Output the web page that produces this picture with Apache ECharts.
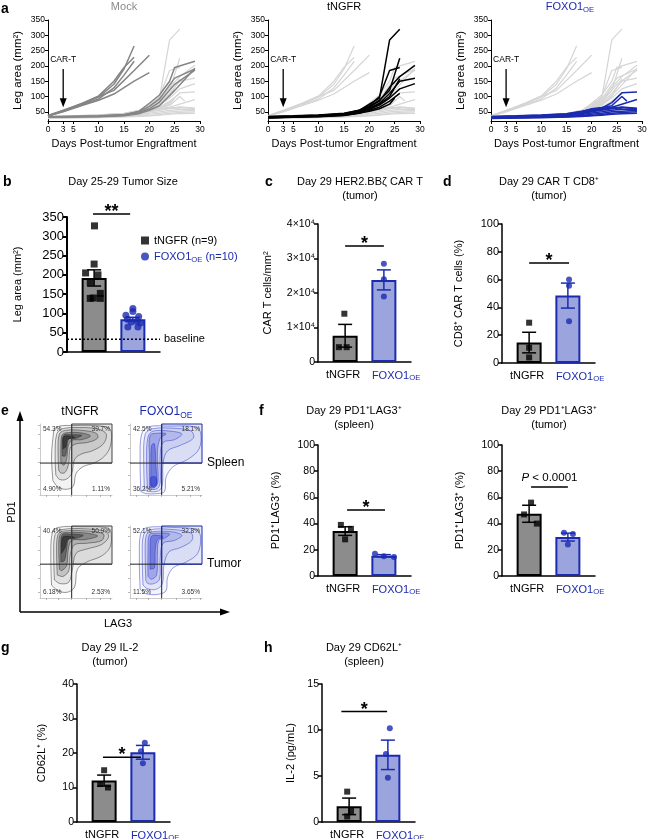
<!DOCTYPE html>
<html><head><meta charset="utf-8">
<script src="https://cdn.jsdelivr.net/npm/echarts@6/dist/echarts.min.js"></script>
<style>html,body{margin:0;padding:0;background:#fff}#c{width:648px;height:839px}</style>
</head><body><div id="c"></div>
<script>
// ================= DATA =================
// Panel a: leg area (mm^2) per mouse, [day, value]
const daysTicks = [0, 3, 5, 10, 15, 20, 25, 30];
const legTicks = [50, 100, 150, 200, 250, 300, 350];
const carTDay = 3;
const mockLines = [
  [[0,38],[3,55],[7,78],[10,98],[13,140],[15,190],[17,265]],
  [[0,37],[3,54],[7,80],[10,102],[13,150],[15,195],[17,228]],
  [[0,36],[3,52],[7,75],[10,92],[13,128],[15,170],[17,215]],
  [[0,37],[3,53],[7,78],[10,100],[13,120],[17,185],[20,235]],
  [[0,36],[3,50],[7,72],[10,88],[13,108],[17,150],[20,178]],
  [[0,33],[10,36],[15,40],[18,52],[20,78],[22,105],[24,150],[25,195],[29,215]],
  [[0,34],[10,37],[15,41],[18,50],[20,68],[22,92],[25,160],[29,190]],
  [[0,33],[10,35],[15,39],[18,47],[20,60],[22,82],[25,140],[29,186]],
  [[0,32],[10,34],[15,37],[18,44],[20,55],[22,70],[25,120],[29,192]]
];
const tngfrLines = [
  [[0,35],[5,37],[10,40],[15,45],[18,55],[20,75],[22,95],[24,285],[26,320]],
  [[0,33],[5,35],[10,38],[15,43],[18,52],[20,68],[22,88],[24,120],[26,225]],
  [[0,34],[5,36],[10,39],[15,44],[18,55],[20,70],[22,100],[24,185],[26,195]],
  [[0,32],[5,34],[10,37],[15,42],[18,50],[20,65],[22,85],[24,130],[26,165],[29,202]],
  [[0,33],[5,35],[10,38],[15,42],[18,48],[20,62],[22,78],[24,110],[26,150],[29,160]],
  [[0,31],[5,33],[10,36],[15,40],[18,47],[20,58],[22,72],[24,95],[26,125],[29,142]],
  [[0,32],[5,34],[10,36],[15,41],[18,50],[20,60],[22,75],[24,100],[26,158]],
  [[0,30],[5,32],[10,34],[15,38],[18,45],[20,55],[22,65],[24,85],[26,110]],
  [[0,31],[5,33],[10,35],[15,39],[18,46],[20,52],[22,60],[24,75],[25,95]]
];
const foxoLines = [
  [[0,35],[5,37],[10,40],[15,44],[18,52],[20,58],[22,62],[24,80],[26,112],[29,115]],
  [[0,34],[5,36],[10,39],[15,43],[18,50],[20,60],[22,64],[24,70],[26,100],[27,85]],
  [[0,33],[5,35],[10,37],[15,41],[18,47],[20,55],[22,60],[24,65],[26,75],[29,90]],
  [[0,32],[5,34],[10,36],[15,40],[18,45],[20,52],[22,58],[24,62],[26,66],[29,62]],
  [[0,31],[5,33],[10,35],[15,39],[18,44],[20,50],[22,55],[24,60],[26,64],[29,60]],
  [[0,30],[5,32],[10,34],[15,37],[18,41],[20,46],[22,50],[24,55],[26,58],[29,58]],
  [[0,29],[5,31],[10,33],[15,35],[18,38],[20,42],[22,45],[24,50],[26,52],[29,55]],
  [[0,30],[5,31],[10,32],[15,34],[18,36],[20,38],[22,41],[24,45],[26,48],[29,50]],
  [[0,28],[5,30],[10,31],[15,33],[18,35],[20,37],[22,39],[24,42],[26,44],[29,45]],
  [[0,32],[5,34],[10,36],[15,40],[18,46],[20,56],[22,62],[24,64],[26,62]]
];

// Group labels ("_" marks subscript)
const groupLabels = ['tNGFR', 'FOXO1_OE'];

// Panel b: Day 25-29 tumor size (mm^2); points are [group position, value]
const bMeans = [192, 85];
const bSems = [21, 5];
const bPtsT = [[1.01,327],[1.0,228],[0.78,205],[1.1,200],[0.9,181],[1.16,152],[0.9,139],[1.16,139],[0.98,140]];
const bPtsF = [[2.0,113],[2.0,105],[1.82,95],[2.15,92],[1.86,85],[2.1,80],[1.96,78],[2.2,75],[1.87,65],[2.13,65]];
const bBaseline = 33;
const bSig = [0.97, 1.93, 358, '**'];

// Panel c: CAR T cells/mm^2
const cMeans = [7600, 23800];
const cSems = [3300, 2900];
const cPtsT = [[0.98,14000],[0.84,4300],[1.04,4300]];
const cPtsF = [[2.0,28500],[2.0,24000],[2.0,19000]];
const cSig = [1.0, 2.0, 33600, '*'];

// Panel d: CD8+ CAR T cells (%)
const dMeans = [14.7, 48.5];
const dSems = [7.4, 9.0];
const dPtsT = [[1.0,29],[1.0,11],[1.0,4]];
const dPtsF = [[2.03,60],[2.03,55.6],[2.03,30]];
const dSig = [1.0, 2.03, 72, '*'];

// Panel e: flow cytometry (PD1 vs LAG3), quadrant percentages [UL, UR, LL, LR]
const pctTSpleen = ['54.3%', '39.7%', '4.90%', '1.11%'];
const pctFSpleen = ['42.5%', '18.1%', '36.2%', '5.21%'];
const pctTTumor  = ['40.4%', '50.9%', '6.18%', '2.53%'];
const pctFTumor  = ['52.1%', '32.8%', '11.5%', '3.65%'];
const gatesX = [44, 44, 44, 44];
const gatesY = [45, 45, 47, 47];
// density contour outlines, [LAG3 %, PD1 %] of plot range
const flowTSpleen = [
  [[18,20],[16,50],[18,80],[22,95],[50,98],[85,97],[98,92],[98,70],[90,55],[75,45],[60,40],[50,30],[46,12],[35,8],[24,12],[18,20]],
  [[22,28],[21,55],[23,85],[30,93],[55,95],[80,93],[92,86],[88,72],[72,62],[58,58],[48,50],[44,30],[36,22],[27,22],[22,28]],
  [[26,35],[25,62],[27,86],[35,91],[58,91],[78,87],[80,80],[66,74],[50,72],[42,66],[40,45],[35,32],[29,31],[26,35]],
  [[29,45],[29,70],[31,85],[40,88],[60,87],[70,83],[58,78],[44,77],[39,68],[37,50],[33,42],[29,45]],
  [[31,55],[31,78],[34,85],[45,85],[58,84],[50,80],[40,79],[37,65],[35,55],[31,55]],
  [[32,65],[33,82],[42,83],[48,81],[38,78],[36,68],[32,65]]
];
const flowFSpleen = [
  [[15,5],[14,50],[16,85],[25,96],[55,97],[90,96],[98,88],[96,65],[80,50],[60,40],[50,25],[48,5],[38,2],[22,2],[15,5]],
  [[20,8],[19,50],[21,85],[30,93],[60,94],[85,90],[88,80],[70,70],[52,62],[46,45],[45,15],[40,6],[25,5],[20,8]],
  [[24,10],[23,50],[25,82],[32,90],[55,90],[72,86],[62,78],[46,74],[42,55],[42,18],[38,9],[28,8],[24,10]],
  [[27,12],[27,55],[28,84],[38,87],[50,86],[42,80],[38,60],[39,20],[35,11],[30,10],[27,12]],
  [[29,13],[29,40],[30,70],[34,72],[36,40],[37,18],[34,13],[29,13]],
  [[29,12],[29,25],[36,25],[37,14],[33,11],[29,12]]
];
const flowTTumor = [
  [[16,18],[15,55],[17,90],[25,98],[60,99],[95,97],[99,88],[97,70],[85,58],[65,50],[52,40],[48,15],[38,8],[25,10],[16,18]],
  [[20,25],[19,60],[21,88],[30,95],[65,96],[92,92],[95,84],[85,74],[65,68],[50,62],[45,40],[40,22],[28,20],[20,25]],
  [[24,32],[23,65],[25,88],[33,93],[65,93],[88,89],[86,80],[65,76],[48,74],[42,60],[40,38],[32,30],[24,32]],
  [[27,40],[26,70],[28,88],[36,91],[65,90],[80,86],[62,81],[44,80],[39,65],[37,45],[30,38],[27,40]],
  [[29,50],[29,78],[31,88],[40,89],[60,87],[50,83],[40,82],[37,68],[34,52],[29,50]],
  [[30,62],[31,84],[38,86],[48,84],[38,81],[35,70],[30,62]]
];
const flowFTumor = [
  [[14,12],[13,55],[15,90],[24,98],[60,98],[92,95],[98,85],[94,62],[78,50],[60,42],[52,28],[50,10],[38,5],[22,6],[14,12]],
  [[18,18],[17,58],[19,88],[28,95],[60,95],[85,90],[86,80],[70,70],[54,64],[47,45],[45,20],[36,12],[24,13],[18,18]],
  [[22,24],[21,62],[23,88],[31,92],[58,92],[72,87],[62,80],[46,76],[42,55],[41,26],[33,20],[25,20],[22,24]],
  [[25,30],[25,68],[27,88],[35,90],[55,89],[48,83],[40,80],[38,58],[37,32],[30,26],[25,30]],
  [[28,40],[28,75],[30,86],[38,87],[46,85],[38,81],[35,65],[34,42],[28,40]]
];

// Panel f: PD1+LAG3+ (%)
const fsMeans = [34.3, 15.5];
const fsSems = [3.3, 0.8];
const fsPtsT = [[0.89,39],[1.15,36],[1.0,28]];
const fsPtsF = [[1.77,17],[2.0,15],[2.26,14.5]];
const fsSig = [1.05, 2.03, 50.4, '*'];
const ftMeans = [47.5, 29.7];
const ftSems = [6.5, 3.0];
const ftPtsT = [[1.05,56],[0.87,47],[1.2,40]];
const ftPtsF = [[1.9,33],[2.13,32],[2.0,24]];
const ftSig = [1.05, 2.0, 68, 'P < 0.0001'];

// Panel g: CD62L+ (%)
const gMeans = [12, 20.2];
const gSems = [1.6, 2.0];
const gPtsT = [[1.0,15],[0.9,11],[1.1,10]];
const gPtsF = [[2.05,23],[1.95,20.5],[2.0,17]];
const gSig = [0.97, 1.95, 18.8, '*'];

// Panel h: IL-2 (pg/mL)
const hMeans = [1.7, 7.3];
const hSems = [0.9, 1.6];
const hPtsT = [[0.95,3.3],[1.05,1.2],[0.95,0.6]];
const hPtsF = [[2.05,10.2],[1.95,7.4],[2.0,4.8]];
const hSig = [0.8, 1.98, 12, '*'];

// ================= STYLE / LAYOUT =================
const FF = 'Liberation Sans, Arial, Helvetica, sans-serif';
const BLUE = '#1b2bb0', BLUE_FILL = '#9ba4dd', GRAY_FILL = '#8c8c8c';
const MOCK_DARK = '#858585', LIGHT = '#d5d5d5';

const gridBoxes = [
  [48, 20, 152, 101], [268, 20, 152, 101], [491, 20, 151, 101],
  [67, 217, 93, 135], [318, 224, 93, 138], [502, 224, 93, 139],
  [40, 424, 72, 71], [130, 424, 72, 71], [40, 526, 72, 72], [130, 526, 72, 72],
  [318, 445, 93, 131], [502, 445, 93, 131],
  [77, 684, 93, 138], [322, 684, 93, 138]
];
const grid = gridBoxes.map(b => ({left: b[0], top: b[1], width: b[2], height: b[3], outerBoundsMode: 'none', containLabel: false}));

const xAxis = [], yAxis = [];
// panel a axes
for (let i = 0; i < 3; i++) {
  xAxis.push({gridIndex: i, type: 'value', min: 0, max: 30,
    axisLine: {show: true, onZero: false, lineStyle: {color: '#000', width: 1}},
    axisTick: {show: true, customValues: daysTicks, length: 3, lineStyle: {color: '#000'}},
    axisLabel: {customValues: daysTicks, fontSize: 8.5, fontFamily: FF, color: '#000', margin: 4, hideOverlap: false},
    splitLine: {show: false},
    name: 'Days Post-tumor Engraftment', nameLocation: 'middle', nameGap: 17,
    nameTextStyle: {fontSize: 11, fontFamily: FF, color: '#000'}});
  yAxis.push({gridIndex: i, type: 'value', min: 20, max: 350,
    axisLine: {show: true, onZero: false, lineStyle: {color: '#000', width: 1}},
    axisTick: {show: true, customValues: legTicks, length: 3, lineStyle: {color: '#000'}},
    axisLabel: {customValues: legTicks, fontSize: 8.5, fontFamily: FF, color: '#000', margin: 3},
    splitLine: {show: false},
    name: 'Leg area (mm²)', nameLocation: 'middle', nameGap: 24, nameRotate: 90,
    nameTextStyle: {fontSize: 11.5, fontFamily: FF, color: '#000'}});
}
function barX(gi) {
  return {gridIndex: gi, type: 'value', min: 0.3, max: 2.7,
    axisLine: {show: true, onZero: false, lineStyle: {color: '#000', width: 1.5}},
    axisTick: {show: false}, splitLine: {show: false}, axisLabel: {show: false}};
}
function barY(gi, max, interval, name, gap, fmt, fs, lw) {
  return {gridIndex: gi, type: 'value', min: 0, max, interval,
    axisLine: {show: true, onZero: false, lineStyle: {color: '#000', width: lw || 1.5}},
    axisTick: {show: true, length: 4, lineStyle: {color: '#000', width: lw || 1.5}},
    axisLabel: {fontSize: fs || 10.5, fontFamily: FF, color: '#000', margin: 3, formatter: fmt},
    splitLine: {show: false},
    name, nameLocation: 'middle', nameGap: gap, nameRotate: 90,
    nameTextStyle: {fontSize: 11, fontFamily: FF, color: '#000'}};
}
// b
xAxis.push(barX(3));
yAxis.push(barY(3, 350, 50, 'Leg area (mm²)', 44, null, 13, 2));
// c
xAxis.push(barX(4));
yAxis.push(barY(4, 40000, 10000, 'CAR T cells/mm²', 45, v => v === 0 ? '0' : (v / 10000) + '×10⁴', 10.5));
// d
xAxis.push(barX(5));
yAxis.push(barY(5, 100, 20, 'CD8⁺ CAR T cells (%)', 38, null, 11));
// e flow axes
for (let i = 6; i < 10; i++) {
  xAxis.push({gridIndex: i, type: 'value', min: 0, max: 100,
    axisLine: {show: true, onZero: false, lineStyle: {color: '#aaa', width: 0.6}},
    axisTick: {show: true, customValues: [8, 26, 44, 64, 84, 98], length: 2, lineStyle: {color: '#888', width: 0.6}},
    axisLabel: {show: false}, splitLine: {show: false}});
  yAxis.push({gridIndex: i, type: 'value', min: 0, max: 100,
    axisLine: {show: true, onZero: false, lineStyle: {color: '#aaa', width: 0.6}},
    axisTick: {show: true, customValues: [8, 28, 46, 66, 86, 98], length: 2, lineStyle: {color: '#888', width: 0.6}},
    axisLabel: {show: false}, splitLine: {show: false}});
}
// f
xAxis.push(barX(10));
yAxis.push(barY(10, 100, 20, 'PD1⁺LAG3⁺ (%)', 37, null, 10.5));
xAxis.push(barX(11));
yAxis.push(barY(11, 100, 20, 'PD1⁺LAG3⁺ (%)', 37, null, 10.5));
// g, h
xAxis.push(barX(12));
yAxis.push(barY(12, 40, 10, 'CD62L⁺ (%)', 30, null, 10.5));
xAxis.push(barX(13));
yAxis.push(barY(13, 15, 5, 'IL-2 (pg/mL)', 26, null, 10.5));

// ================= SERIES =================
const series = [];
function lineS(gi, pts, color, w, z) {
  return {type: 'line', xAxisIndex: gi, yAxisIndex: gi, data: pts, symbol: 'none', showSymbol: false,
    lineStyle: {color, width: w}, silent: true, z, animation: false};
}
function carTSeries(gi) {
  return {type: 'custom', xAxisIndex: gi, yAxisIndex: gi, data: [[carTDay]], silent: true, z: 6, clip: false,
    renderItem: (p, api) => {
      const top = api.coord([api.value(0), 190]);
      const tip = api.coord([api.value(0), 65]);
      const lab = api.coord([api.value(0), 220]);
      return {type: 'group', children: [
        {type: 'line', shape: {x1: top[0], y1: top[1], x2: tip[0], y2: tip[1] - 7}, style: {stroke: '#000', lineWidth: 1.3}},
        {type: 'polygon', shape: {points: [[tip[0], tip[1]], [tip[0] - 3.5, tip[1] - 9], [tip[0] + 3.5, tip[1] - 9]]}, style: {fill: '#000'}},
        {type: 'text', style: {text: 'CAR-T', x: lab[0], y: lab[1], align: 'center', verticalAlign: 'middle', fontSize: 8.5, fontFamily: FF, fill: '#000'}}
      ]};
    }};
}
const aPanels = [
  {gi: 0, fg: mockLines, color: MOCK_DARK, bg: tngfrLines.concat(foxoLines)},
  {gi: 1, fg: tngfrLines, color: '#000', bg: mockLines.concat(foxoLines)},
  {gi: 2, fg: foxoLines, color: BLUE, bg: mockLines.concat(tngfrLines)}
];
aPanels.forEach(p => {
  p.bg.forEach(d => series.push(lineS(p.gi, d, LIGHT, 1.2, 1)));
  p.fg.forEach(d => series.push(lineS(p.gi, d, p.color, 1.5, 2)));
  series.push(carTSeries(p.gi));
});

function catLabelSeries(gi) {
  return {type: 'custom', xAxisIndex: gi, yAxisIndex: gi, data: [[1], [2]], silent: true, z: 5, clip: false,
    renderItem: (p, api) => {
      const c = api.coord([api.value(0), 0]);
      const parts = groupLabels[p.dataIndex].split('_');
      if (p.dataIndex === 0) {
        return {type: 'text', style: {text: parts[0], x: c[0] - 2, y: c[1] + 7, align: 'center', verticalAlign: 'top', fontSize: 11, fontFamily: FF, fill: '#000'}};
      }
      return {type: 'text', style: {text: '{m|' + parts[0] + '}{s|' + parts[1] + '}', x: c[0] - 12, y: c[1] + 7, align: 'left', verticalAlign: 'top',
        rich: {m: {fontSize: 11, fontFamily: FF, fill: BLUE, lineHeight: 13}, s: {fontSize: 7.7, fontFamily: FF, fill: BLUE, lineHeight: 8, verticalAlign: 'bottom'}}}};
    }};
}

function barPanel(gi, means, sems, ptsT, ptsF, sig, names, symSize, noCat) {
  series.push({type: 'bar', xAxisIndex: gi, yAxisIndex: gi, barWidth: 25, silent: true, z: 2, animation: false,
    data: [
      {value: [1, means[0]], itemStyle: {color: GRAY_FILL, borderColor: '#000', borderWidth: 2}},
      {value: [2, means[1]], itemStyle: {color: BLUE_FILL, borderColor: BLUE, borderWidth: 2}}
    ]});
  series.push({type: 'custom', xAxisIndex: gi, yAxisIndex: gi, silent: true, z: 3, clip: false,
    data: [[1, means[0], sems[0]], [2, means[1], sems[1]]],
    renderItem: (p, api) => {
      const x = api.value(0), m = api.value(1), s = api.value(2);
      const t = api.coord([x, m + s]), b = api.coord([x, Math.max(0, m - s)]);
      const col = p.dataIndex === 0 ? '#000' : BLUE;
      const st = {stroke: col, lineWidth: 1.5};
      return {type: 'group', children: [
        {type: 'line', shape: {x1: t[0], y1: t[1], x2: b[0], y2: b[1]}, style: st},
        {type: 'line', shape: {x1: t[0] - 7, y1: t[1], x2: t[0] + 7, y2: t[1]}, style: st},
        {type: 'line', shape: {x1: b[0] - 7, y1: b[1], x2: b[0] + 7, y2: b[1]}, style: st}
      ]};
    }});
  series.push({type: 'scatter', name: names ? names[0] : 'tNGFR', xAxisIndex: gi, yAxisIndex: gi, data: ptsT,
    symbol: 'rect', symbolSize: symSize || 6, itemStyle: {color: '#000'}, z: 4, silent: true, animation: false});
  series.push({type: 'scatter', name: names ? names[1] : 'FOXO1', xAxisIndex: gi, yAxisIndex: gi, data: ptsF,
    symbol: 'circle', symbolSize: symSize || 6, itemStyle: {color: BLUE}, z: 4, silent: true, animation: false});
  series.push({type: 'custom', xAxisIndex: gi, yAxisIndex: gi, data: [[sig[0], sig[1], sig[2]]], silent: true, z: 5, clip: false,
    renderItem: (p, api) => {
      const a = api.coord([api.value(0), api.value(2)]), b = api.coord([api.value(1), api.value(2)]);
      const isP = sig[3].charAt(0) === 'P';
      const txt = isP ? {type: 'text', style: {text: '{i|P}{n|' + sig[3].slice(1) + '}', x: (a[0] + b[0]) / 2, y: a[1] - 3, align: 'center', verticalAlign: 'bottom',
            rich: {i: {fontStyle: 'italic', fontSize: 11.5, fontFamily: FF, fill: '#000'}, n: {fontSize: 11.5, fontFamily: FF, fill: '#000'}}}}
        : {type: 'text', style: {text: sig[3], x: (a[0] + b[0]) / 2, y: a[1] + 7, align: 'center', verticalAlign: 'bottom', fontSize: 18, fontWeight: 'bold', fontFamily: FF, fill: '#000'}};
      return {type: 'group', children: [
        {type: 'line', shape: {x1: a[0], y1: a[1], x2: b[0], y2: b[1]}, style: {stroke: '#000', lineWidth: 1.5}},
        txt
      ]};
    }});
  if (!noCat) series.push(catLabelSeries(gi));
}
barPanel(3, bMeans, bSems, bPtsT, bPtsF, bSig, ['tNGFR (n=9)', 'FOXO1 (n=10)'], 7, true);
// baseline
series.push({type: 'custom', xAxisIndex: 3, yAxisIndex: 3, data: [[bBaseline]], silent: true, z: 5, clip: false,
  renderItem: (p, api) => {
    const a = api.coord([0.3, api.value(0)]), b = api.coord([2.7, api.value(0)]);
    return {type: 'group', children: [
      {type: 'line', shape: {x1: a[0], y1: a[1], x2: b[0], y2: b[1]}, style: {stroke: '#000', lineWidth: 1.5, lineDash: [2, 2]}},
      {type: 'text', style: {text: 'baseline', x: b[0] + 4, y: b[1], align: 'left', verticalAlign: 'middle', fontSize: 11, fontFamily: FF, fill: '#000'}}
    ]};
  }});
barPanel(4, cMeans, cSems, cPtsT, cPtsF, cSig);
barPanel(5, dMeans, dSems, dPtsT, dPtsF, dSig);
barPanel(10, fsMeans, fsSems, fsPtsT, fsPtsF, fsSig);
barPanel(11, ftMeans, ftSems, ftPtsT, ftPtsF, ftSig);
barPanel(12, gMeans, gSems, gPtsT, gPtsF, gSig);
barPanel(13, hMeans, hSems, hPtsT, hPtsF, hSig);

// flow plots
const levelAlpha = [0.05, 0.08, 0.14, 0.24, 0.36, 0.5];
const flows = [
  {gi: 6, polys: flowTSpleen, pct: pctTSpleen, gx: gatesX[0], gy: gatesY[0], blue: false},
  {gi: 7, polys: flowFSpleen, pct: pctFSpleen, gx: gatesX[1], gy: gatesY[1], blue: true},
  {gi: 8, polys: flowTTumor, pct: pctTTumor, gx: gatesX[2], gy: gatesY[2], blue: false},
  {gi: 9, polys: flowFTumor, pct: pctFTumor, gx: gatesX[3], gy: gatesY[3], blue: true}
];
flows.forEach(f => {
  series.push({type: 'custom', xAxisIndex: f.gi, yAxisIndex: f.gi, data: [[f.gx, f.gy]], silent: true, z: 1,
    renderItem: (p, api) => {
      const g0 = api.coord([api.value(0), 100]), g1 = api.coord([100, api.value(1)]);
      return {type: 'rect', shape: {x: g0[0], y: g0[1], width: g1[0] - g0[0], height: g1[1] - g0[1]},
        style: {fill: f.blue ? '#e4e7f8' : '#e6e6e6', stroke: 'none'}};
    }});
  series.push({type: 'custom', xAxisIndex: f.gi, yAxisIndex: f.gi, data: f.polys.map((q, i) => [i]), silent: true, z: 2,
    renderItem: (p, api) => {
      const pts = f.polys[p.dataIndex].map(q => api.coord(q));
      const a = levelAlpha[p.dataIndex];
      return {type: 'polygon', shape: {points: pts, smooth: 0.35},
        style: {fill: f.blue ? `rgba(35,50,200,${a})` : `rgba(15,15,15,${a})`,
                stroke: f.blue ? 'rgba(35,50,195,0.8)' : 'rgba(30,30,30,0.75)', lineWidth: 0.6}};
    }});
  series.push({type: 'custom', xAxisIndex: f.gi, yAxisIndex: f.gi, data: [[f.gx, f.gy]], silent: true, z: 4,
    renderItem: (p, api) => {
      const gx = api.value(0), gy = api.value(1);
      const h0 = api.coord([0, gy]), h1 = api.coord([100, gy]);
      const v0 = api.coord([gx, 0]), v1 = api.coord([gx, 100]);
      const tr = api.coord([100, 100]);
      const tl = api.coord([0, 100]), br = api.coord([100, 0]);
      const gateCol = f.blue ? BLUE : '#444';
      const ts = (text, x, y, al, va) => ({type: 'text', style: {text, x, y, align: al, verticalAlign: va, fontSize: 6.5, fontFamily: FF, fill: '#333'}});
      return {type: 'group', children: [
        {type: 'line', shape: {x1: h0[0], y1: h0[1], x2: h1[0], y2: h1[1]}, style: {stroke: '#222', lineWidth: 1}},
        {type: 'line', shape: {x1: v0[0], y1: v0[1], x2: v1[0], y2: v1[1]}, style: {stroke: '#222', lineWidth: 1}},
        {type: 'rect', shape: {x: v1[0], y: v1[1], width: tr[0] - v1[0], height: h1[1] - tr[1]}, style: {fill: 'none', stroke: gateCol, lineWidth: 1}},
        ts(f.pct[0], tl[0] + 3, tl[1] + 2, 'left', 'top'),
        ts(f.pct[1], br[0] - 2, tl[1] + 2, 'right', 'top'),
        ts(f.pct[2], tl[0] + 3, br[1] - 2, 'left', 'bottom'),
        ts(f.pct[3], br[0] - 2, br[1] - 2, 'right', 'bottom')
      ]};
    }});
});

// ================= TEXT / ANNOTATIONS =================
function T(text, x, y, o) {
  return {type: 'text', x, y, silent: true, style: Object.assign({text, fontSize: 11, fontFamily: FF, fill: '#000', align: 'center', verticalAlign: 'middle'}, o || {})};
}
const subRich = (color, fs) => ({m: {fontSize: fs, fontFamily: FF, fill: color, lineHeight: fs + 3}, s: {fontSize: fs * 0.7, fontFamily: FF, fill: color, lineHeight: fs * 0.7, verticalAlign: 'bottom'}});
const L = {fontSize: 14, fontWeight: 'bold', align: 'left'};
const graphic = [
  T('a', 1, 9, L), T('b', 3, 182, L), T('c', 265, 182, L), T('d', 443, 182, L),
  T('e', 1, 411, L), T('f', 259, 411, L), T('g', 1, 648, L), T('h', 264, 648, L),
  T('Mock', 124, 7, {fill: '#8a8a8a'}),
  T('tNGFR', 344, 7),
  T('{m|FOXO1}{s|OE}', 570, 7, {rich: subRich(BLUE, 11)}),
  T('Day 25-29 Tumor Size', 123, 182),
  T('Day 29 HER2.BBζ CAR T', 360, 182), T('(tumor)', 360, 196),
  T('Day 29 CAR T CD8⁺', 549, 182), T('(tumor)', 549, 196),
  T('Day 29 PD1⁺LAG3⁺', 354, 411), T('(spleen)', 354, 425),
  T('Day 29 PD1⁺LAG3⁺', 549, 411), T('(tumor)', 549, 425),
  T('Day 29 IL-2', 110, 648), T('(tumor)', 110, 662),
  T('Day 29 CD62L⁺', 364, 648), T('(spleen)', 364, 662),
  T('tNGFR', 80, 412, {fontSize: 12}),
  T('{m|FOXO1}{s|OE}', 166, 412, {rich: subRich(BLUE, 12)}),
  T('Spleen', 207, 463, {fontSize: 12, align: 'left'}),
  T('Tumor', 207, 564, {fontSize: 12, align: 'left'}),
  T('LAG3', 118, 624, {fontSize: 11}),
  {type: 'text', x: 12, y: 512, rotation: Math.PI / 2, silent: true, style: {text: 'PD1', fontSize: 11, fontFamily: FF, fill: '#000', align: 'center', verticalAlign: 'middle'}},
  {type: 'line', silent: true, shape: {x1: 20, y1: 612, x2: 20, y2: 420}, style: {stroke: '#000', lineWidth: 1.5}},
  {type: 'polygon', silent: true, shape: {points: [[20, 411], [16.5, 421], [23.5, 421]]}, style: {fill: '#000'}},
  {type: 'line', silent: true, shape: {x1: 20, y1: 612, x2: 221, y2: 612}, style: {stroke: '#000', lineWidth: 1.5}},
  {type: 'polygon', silent: true, shape: {points: [[230, 612], [220, 608.5], [220, 615.5]]}, style: {fill: '#000'}}
];

const option = {
  animation: false,
  backgroundColor: '#fff',
  textStyle: {fontFamily: FF},
  grid, xAxis, yAxis, series, graphic,
  legend: {
    left: 136, top: 230, orient: 'vertical', itemGap: 5, itemWidth: 8, itemHeight: 8, selectedMode: false,
    data: [
      {name: 'tNGFR (n=9)', icon: 'rect'},
      {name: 'FOXO1 (n=10)', icon: 'circle'}
    ],
    formatter: n => n === 'FOXO1 (n=10)' ? '{f|FOXO1}{s|OE}{f| (n=10)}' : '{t|' + n + '}',
    textStyle: {fontSize: 11, fontFamily: FF, color: '#000',
      rich: {t: {fontSize: 11, fontFamily: FF, color: '#000', lineHeight: 14},
             f: {fontSize: 11, fontFamily: FF, color: BLUE, lineHeight: 14},
             s: {fontSize: 7.7, fontFamily: FF, color: BLUE, lineHeight: 8, verticalAlign: 'bottom'}}}
  }
};
const chart = echarts.init(document.getElementById('c'), null, {renderer: 'canvas'});
chart.setOption(option);
</script>
</body></html>
